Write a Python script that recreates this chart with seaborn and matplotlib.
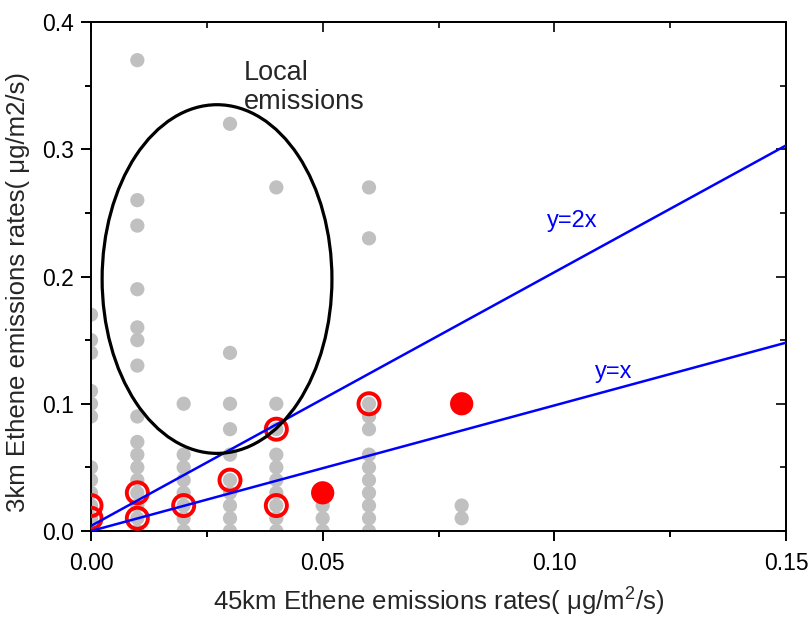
import matplotlib
matplotlib.use("Agg")
import matplotlib.pyplot as plt
from matplotlib.patches import Ellipse
from matplotlib.ticker import MultipleLocator, FormatStrFormatter
import seaborn as sns
import pandas as pd

# ---- data ----
gray_x = ([0.00] * 12 + [0.01] * 16 + [0.02] * 8 + [0.03] * 10 + [0.04] * 10
          + [0.05] * 4 + [0.06] * 12 + [0.08] * 2)
gray_y = ([0.17, 0.15, 0.14, 0.11, 0.10, 0.09, 0.05, 0.04, 0.03, 0.02, 0.01, 0.0]
          + [0.37, 0.26, 0.24, 0.19, 0.16, 0.15, 0.13, 0.09, 0.07, 0.06, 0.05, 0.04, 0.03, 0.02, 0.01, 0.0]
          + [0.10, 0.06, 0.05, 0.04, 0.03, 0.02, 0.01, 0.0]
          + [0.32, 0.14, 0.10, 0.08, 0.06, 0.04, 0.03, 0.02, 0.01, 0.0]
          + [0.27, 0.10, 0.08, 0.06, 0.05, 0.04, 0.03, 0.02, 0.01, 0.0]
          + [0.03, 0.02, 0.01, 0.0]
          + [0.27, 0.23, 0.10, 0.09, 0.08, 0.06, 0.05, 0.04, 0.03, 0.02, 0.01, 0.0]
          + [0.02, 0.01])

open_x = [0.00, 0.00, 0.01, 0.01, 0.02, 0.03, 0.04, 0.04, 0.06]
open_y = [0.02, 0.01, 0.03, 0.01, 0.02, 0.04, 0.08, 0.02, 0.10]

filled_x = [0.05, 0.08]
filled_y = [0.03, 0.10]

line_x = [0.0, 0.15]
line_2x = [0.004, 0.303]
line_1x = [0.0, 0.148]

x_ticks = [0.00, 0.05, 0.10, 0.15]
y_ticks = [0.0, 0.1, 0.2, 0.3, 0.4]

# ---- style ----
sns.set_style("ticks")
plt.rcParams["font.family"] = ["Liberation Sans", "DejaVu Sans"]
plt.rcParams["mathtext.fontset"] = "custom"
plt.rcParams["mathtext.rm"] = "Liberation Sans"

fig = plt.figure(figsize=(8.08, 6.18), dpi=100)
ax = fig.add_axes([91 / 808, 1 - 531 / 618, 695 / 808, 509 / 618])

gdf = pd.DataFrame({"x": gray_x, "y": gray_y})
sns.scatterplot(data=gdf, x="x", y="y", ax=ax, color="#c0c0c0", s=105,
                edgecolor="none", zorder=2, legend=False)
odf = pd.DataFrame({"x": open_x, "y": open_y})
sns.scatterplot(data=odf, x="x", y="y", ax=ax, s=230, facecolor="none",
                edgecolor="#ff0000", linewidth=2.8, zorder=3, legend=False)
fdf = pd.DataFrame({"x": filled_x, "y": filled_y})
sns.scatterplot(data=fdf, x="x", y="y", ax=ax, color="#ff0000", s=280,
                edgecolor="none", zorder=3, legend=False)

ldf = pd.DataFrame({"x": line_x + line_x,
                    "y": line_2x + line_1x,
                    "g": ["2x", "2x", "1x", "1x"]})
sns.lineplot(data=ldf, x="x", y="y", units="g", estimator=None, ax=ax,
             color="#0000ff", linewidth=1.8, zorder=4, legend=False)

ell = Ellipse((0.0272, 0.198), 0.0496, 0.274, fill=False, edgecolor="black",
              linewidth=2.3, zorder=5)
ax.add_patch(ell)

ax.text(0.0330, 0.370, "Local\nemissions", fontsize=19.5, va="top", ha="left",
        linespacing=1.12, zorder=6)
ax.text(0.0985, 0.244, "y=2x", fontsize=17, color="#0000ff", va="center", ha="left")
ax.text(0.1088, 0.125, "y=x", fontsize=17, color="#0000ff", va="center", ha="left")

ax.set_xlim(0, 0.15)
ax.set_ylim(0, 0.4)
ax.set_xticks(x_ticks)
ax.set_yticks(y_ticks)
ax.xaxis.set_major_formatter(FormatStrFormatter("%.2f"))
ax.yaxis.set_major_formatter(FormatStrFormatter("%.1f"))
ax.xaxis.set_minor_locator(MultipleLocator(0.025))
ax.yaxis.set_minor_locator(MultipleLocator(0.05))

for sp in ax.spines.values():
    sp.set_visible(True)
    sp.set_linewidth(1.4)
    sp.set_color("black")

ax.tick_params(axis="both", which="both", direction="out", width=1.4,
               labelsize=16.5, colors="black")
ax.tick_params(which="major", length=7)
ax.tick_params(which="minor", length=4)
ax.tick_params(axis="x", which="major", pad=8)
ax.tick_params(axis="y", which="major", pad=5)

sec_x = ax.secondary_xaxis("top")
sec_x.set_xticks(x_ticks)
sec_x.xaxis.set_minor_locator(MultipleLocator(0.025))
sec_x.tick_params(which="both", direction="in", labeltop=False, width=1.4)
sec_x.tick_params(which="major", length=7)
sec_x.tick_params(which="minor", length=4)
sec_x.spines["top"].set_linewidth(1.4)
sec_y = ax.secondary_yaxis("right")
sec_y.set_yticks(y_ticks)
sec_y.yaxis.set_minor_locator(MultipleLocator(0.05))
sec_y.tick_params(which="both", direction="in", labelright=False, width=1.4)
sec_y.tick_params(which="major", length=7)
sec_y.tick_params(which="minor", length=4)
sec_y.spines["right"].set_linewidth(1.4)

ax.set_xlabel("45km Ethene emissions rates( \u03bcg/m$^{2}$/s)", fontsize=18.5, labelpad=7)
ax.set_ylabel("3km Ethene emissions rates( \u03bcg/m2/s)", fontsize=18.5, labelpad=8)
ax.yaxis.set_label_coords(-0.088, 0.47)

fig.savefig("out.png", dpi=100)
